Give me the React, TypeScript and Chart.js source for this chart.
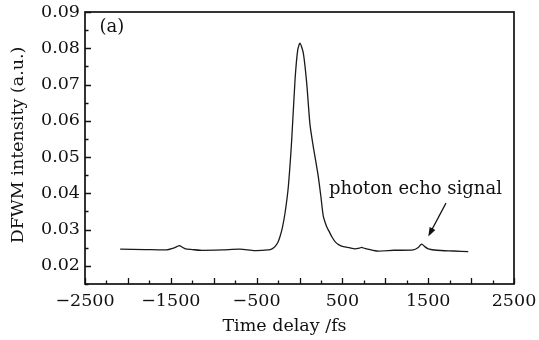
import React, { useEffect, useRef } from "react";
import { Chart, registerables } from "chart.js";

Chart.register(...registerables);

const delays = [-2090, -1800, -1550, -1470, -1430, -1400, -1370, -1330, -1250, -1160, -900, -693, -520, -364, -320, -286, -250, -227, -200, -169, -130, -91, -52, -21, 6, 45, 84, 122, 161, 190, 219, 250, 277, 317, 345, 375, 414, 460, 510, 580, 647, 700, 725, 760, 900, 1100, 1326, 1380, 1424, 1460, 1501, 1600, 1800, 1967];
const intensity = [0.0246, 0.0245, 0.0244, 0.0249, 0.0253, 0.0256, 0.0252, 0.0247, 0.0245, 0.0243, 0.0244, 0.0246, 0.0242, 0.0244, 0.0247, 0.0253, 0.0266, 0.0281, 0.0305, 0.0345, 0.0419, 0.0547, 0.0713, 0.0795, 0.0814, 0.0786, 0.0704, 0.0590, 0.0528, 0.0488, 0.0446, 0.0390, 0.0338, 0.0308, 0.0295, 0.0281, 0.0267, 0.0258, 0.0253, 0.025, 0.0247, 0.0249, 0.0251, 0.0248, 0.0241, 0.0243, 0.0244, 0.025, 0.026, 0.0253, 0.0247, 0.0243, 0.0241, 0.0239];

const xTickLabels = [-2500, -1500, -500, 500, 1500, 2500];
const yTickLabels = [0.02, 0.03, 0.04, 0.05, 0.06, 0.07, 0.08, 0.09];
const xMinorStep = 250;
const yMinorStep = 0.005;

const xTitle = "Time delay /fs";
const yTitle = "DFWM intensity (a.u.)";
const panelLabel = "(a)";
const panelLabelAt = [-2330, 0.0858];
const annotationText = "photon echo signal";
const annotationAt = [1352, 0.0412];
const arrowFrom = [1707, 0.0373];
const arrowTo = [1501, 0.0281];

const FONT = "'DejaVu Serif', serif";
const FS = 17.5;

export default function App() {
  const ref = useRef<HTMLCanvasElement>(null);
  useEffect(() => {
    document.body.style.margin = "0";
    const canvas = ref.current!;
    const decor = {
      id: "decor",
      afterDraw(chart: any) {
        const ctx = chart.ctx;
        const xs = chart.scales.x;
        const ys = chart.scales.y;
        const a = chart.chartArea;
        ctx.save();
        ctx.strokeStyle = "#111";
        ctx.fillStyle = "#111";
        ctx.lineWidth = 1.3;
        ctx.beginPath();
        for (let v = xs.min; v <= xs.max + 1e-9; v += xMinorStep) {
          const px = Math.round(xs.getPixelForValue(v)) + 0.5;
          const major = Math.abs(v % 500) < 1e-6;
          const len = major ? 6 : 3.5;
          ctx.moveTo(px, a.bottom);
          ctx.lineTo(px, a.bottom - len);
        }
        for (let v = 0.015; v <= ys.max + 1e-9; v += yMinorStep) {
          const py = Math.round(ys.getPixelForValue(v)) + 0.5;
          const major = Math.abs(Math.round(v * 1000) % 10) < 1e-6;
          const len = major ? 6 : 3.5;
          ctx.moveTo(a.left, py);
          ctx.lineTo(a.left + len, py);
        }
        ctx.stroke();
        ctx.lineWidth = 1.7;
        ctx.strokeRect(a.left, a.top, a.right - a.left, a.bottom - a.top);
        // axis titles
        ctx.font = `${FS}px ${FONT}`;
        ctx.textBaseline = "middle";
        ctx.textAlign = "center";
        ctx.fillText(xTitle, (a.left + a.right) / 2 - 15, a.bottom + 42);
        ctx.save();
        ctx.translate(18, (a.top + a.bottom) / 2 - 3);
        ctx.rotate(-Math.PI / 2);
        ctx.fillText(yTitle, 0, 0);
        ctx.restore();
        // annotations
        ctx.font = `${FS + 0.5}px ${FONT}`;
        ctx.textAlign = "left";
        ctx.fillText(panelLabel, xs.getPixelForValue(panelLabelAt[0]), ys.getPixelForValue(panelLabelAt[1]));
        ctx.textAlign = "center";
        ctx.fillText(annotationText, xs.getPixelForValue(annotationAt[0]), ys.getPixelForValue(annotationAt[1]));
        const x1 = xs.getPixelForValue(arrowFrom[0]);
        const y1 = ys.getPixelForValue(arrowFrom[1]);
        const x2 = xs.getPixelForValue(arrowTo[0]);
        const y2 = ys.getPixelForValue(arrowTo[1]);
        const ang = Math.atan2(y2 - y1, x2 - x1);
        const hl = 9;
        const hw = 3.2;
        ctx.lineWidth = 1.2;
        ctx.beginPath();
        ctx.moveTo(x1, y1);
        ctx.lineTo(x2 - Math.cos(ang) * hl * 0.8, y2 - Math.sin(ang) * hl * 0.8);
        ctx.stroke();
        ctx.beginPath();
        ctx.moveTo(x2, y2);
        ctx.lineTo(x2 - Math.cos(ang) * hl + Math.sin(ang) * hw, y2 - Math.sin(ang) * hl - Math.cos(ang) * hw);
        ctx.lineTo(x2 - Math.cos(ang) * hl - Math.sin(ang) * hw, y2 - Math.sin(ang) * hl + Math.cos(ang) * hw);
        ctx.closePath();
        ctx.fill();
        ctx.restore();
      },
    };
    const chart = new Chart(canvas, {
      type: "line",
      data: {
        datasets: [
          {
            data: delays.map((d, i) => ({ x: d, y: intensity[i] })),
            borderColor: "#1a1a1a",
            borderWidth: 1.3,
            pointRadius: 0,
            fill: false,
            tension: 0.25,
          },
        ],
      },
      options: {
        animation: false,
        responsive: false,
        devicePixelRatio: 1,
        layout: { padding: { top: 12, right: 25, left: 0, bottom: 0 } },
        plugins: { legend: { display: false }, tooltip: { enabled: false } },
        scales: {
          x: {
            type: "linear",
            min: -2500,
            max: 2500,
            grid: { display: false, drawTicks: false },
            border: { display: false },
            afterBuildTicks: (s: any) => {
              s.ticks = xTickLabels.map((value) => ({ value }));
            },
            afterFit: (s: any) => {
              s.height = 56;
              s.paddingLeft = 0;
              s.paddingRight = 0;
            },
            ticks: {
              color: "#111",
              padding: 7,
              maxRotation: 0,
              autoSkip: false,
              font: { family: FONT, size: FS },
              callback: (v: any) => String(v).replace("-", "\u2212"),
            },
          },
          y: {
            type: "linear",
            min: 0.015,
            max: 0.09,
            grid: { display: false, drawTicks: false },
            border: { display: false },
            afterBuildTicks: (s: any) => {
              s.ticks = yTickLabels.map((value) => ({ value }));
            },
            afterFit: (s: any) => {
              s.width = 85;
              s.paddingTop = 0;
              s.paddingBottom = 0;
            },
            ticks: {
              color: "#111",
              padding: 5,
              autoSkip: false,
              font: { family: FONT, size: FS },
              callback: (v: any) => Number(v).toFixed(2),
            },
          },
        },
      },
      plugins: [decor],
    });
    return () => chart.destroy();
  }, []);
  return (
    <div style={{ position: "fixed", left: 0, top: 0, width: 539, height: 340, background: "#fff" }}>
      <canvas ref={ref} width={539} height={340} />
    </div>
  );
}
